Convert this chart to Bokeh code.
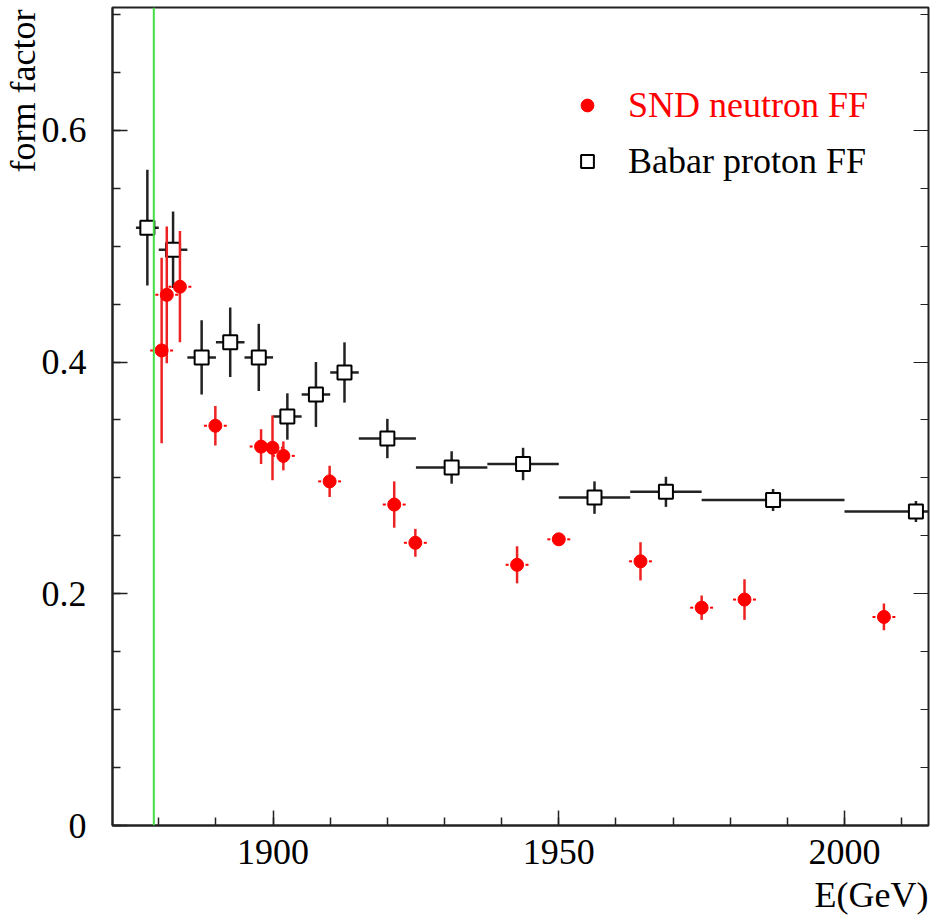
from bokeh.plotting import figure
from bokeh.models import (ColumnDataSource, Range1d, LinearAxis, SingleIntervalTicker,
                          Span, Title, Legend, LegendItem, CustomJSTickFormatter)
from bokeh.embed import file_html
from bokeh.resources import INLINE

# ---- data ----
snd_e = [1880.5, 1881.4, 1883.7, 1889.9, 1897.9, 1899.9, 1901.8, 1909.9,
         1921.2, 1924.9, 1942.7, 1950.0, 1964.3, 1975.0, 1982.5, 2006.9]
snd_ff = [0.410, 0.458, 0.465, 0.345, 0.327, 0.326, 0.319, 0.297,
          0.277, 0.244, 0.225, 0.247, 0.228, 0.188, 0.195, 0.180]
snd_ff_err = [0.080, 0.059, 0.048, 0.017, 0.015, 0.028, 0.0125, 0.0135,
              0.020, 0.012, 0.016, 0.004, 0.0165, 0.0105, 0.0175, 0.0115]
snd_e_err = [2.0] * 16

babar_e = [1878.0, 1882.5, 1887.5, 1892.5, 1897.5, 1902.5, 1907.5, 1912.5,
           1920.0, 1931.25, 1943.75, 1956.25, 1968.75, 1987.5, 2012.5]
babar_e_err = [2.0, 2.5, 2.5, 2.5, 2.5, 2.5, 2.5, 2.5,
               5.0, 6.25, 6.25, 6.25, 6.25, 12.5, 12.5]
babar_ff = [0.516, 0.497, 0.404, 0.417, 0.404, 0.353, 0.372, 0.391,
            0.334, 0.309, 0.312, 0.283, 0.288, 0.281, 0.271]
babar_ff_err = [0.050, 0.033, 0.032, 0.030, 0.029, 0.020, 0.028, 0.026,
                0.017, 0.014, 0.014, 0.014, 0.013, 0.0095, 0.009]

threshold = 1879.13  # 2 * neutron mass

x_ticks_major = 50
y_ticks_major = 0.2
y_tick_labels = {0: "0", 0.2: "0.2", 0.4: "0.4", 0.6: "0.6"}

FONT = "Liberation Serif"
FS = "36px"
FRAME = "#222222"

snd = ColumnDataSource(dict(
    x=snd_e, y=snd_ff,
    xl=[x - e for x, e in zip(snd_e, snd_e_err)],
    xr=[x + e for x, e in zip(snd_e, snd_e_err)],
    yl=[y - e for y, e in zip(snd_ff, snd_ff_err)],
    yh=[y + e for y, e in zip(snd_ff, snd_ff_err)],
))
bab = ColumnDataSource(dict(
    x=babar_e, y=babar_ff,
    xl=[x - e for x, e in zip(babar_e, babar_e_err)],
    xr=[x + e for x, e in zip(babar_e, babar_e_err)],
    yl=[y - e for y, e in zip(babar_ff, babar_ff_err)],
    yh=[y + e for y, e in zip(babar_ff, babar_ff_err)],
))

p = figure(width=933, height=921, output_backend="svg", toolbar_location=None,
           x_range=Range1d(1871.9, 2014.7), y_range=Range1d(0, 0.706),
           min_border_left=112, min_border_right=5, min_border_top=7,
           min_border_bottom=95, x_axis_location=None, y_axis_location=None)
p.grid.visible = False
p.outline_line_color = FRAME
p.outline_line_width = 2
p.background_fill_color = "white"
p.border_fill_color = "white"

xt = SingleIntervalTicker(interval=x_ticks_major, num_minor_ticks=5)
yt = SingleIntervalTicker(interval=y_ticks_major, num_minor_ticks=4)

xax = LinearAxis(ticker=xt)
yax = LinearAxis(ticker=yt, major_label_overrides=y_tick_labels)
for ax in (xax, yax):
    ax.axis_line_color = FRAME
    ax.axis_line_width = 2
    ax.major_tick_line_color = FRAME
    ax.minor_tick_line_color = FRAME
    ax.major_tick_line_width = 1.5
    ax.minor_tick_line_width = 1.5
    ax.major_tick_in = 15
    ax.major_tick_out = 0
    ax.minor_tick_in = 8
    ax.minor_tick_out = 0
    ax.major_label_text_font = FONT
    ax.major_label_text_font_size = FS
    ax.major_label_text_color = "black"
xax.major_label_standoff = 14
yax.major_label_standoff = 26
p.add_layout(xax, "below")
p.add_layout(yax, "left")

rax = LinearAxis(ticker=SingleIntervalTicker(interval=y_ticks_major, num_minor_ticks=4),
                 formatter=CustomJSTickFormatter(code="return ''"))
rax.axis_line_color = FRAME
rax.major_tick_line_color = FRAME
rax.minor_tick_line_color = FRAME
rax.major_tick_in = 15
rax.major_tick_out = 0
rax.minor_tick_in = 8
rax.minor_tick_out = 0
rax.major_label_text_font_size = "0px"
rax.major_label_standoff = 0
p.add_layout(rax, "right")

# axis titles (ROOT style: at the far end of each axis)
p.add_layout(Title(text="form factor", align="right", offset=2, standoff=-8,
                   text_font=FONT, text_font_size=FS, text_font_style="normal",
                   text_color="black"), "left")
p.add_layout(Title(text="E(GeV)", align="right", standoff=13,
                   text_font=FONT, text_font_size=FS, text_font_style="normal",
                   text_color="black"), "below")

# threshold line
p.add_layout(Span(location=threshold, dimension="height",
                  line_color="#44dd44", line_width=2))

# Babar error bars
p.segment(x0="xl", y0="y", x1="xr", y1="y", source=bab, line_color=FRAME, line_width=2.5)
p.segment(x0="x", y0="yl", x1="x", y1="yh", source=bab, line_color=FRAME, line_width=2.5)
bab_r = p.scatter(x="x", y="y", source=bab, marker="square", size=14,
                  fill_color="white", line_color="black", line_width=2)

# SND error bars
p.segment(x0="xl", y0="y", x1="x", y1="y", source=snd, line_color="red",
          line_width=2, line_dash="3 10")
p.segment(x0="xr", y0="y", x1="x", y1="y", source=snd, line_color="red",
          line_width=2, line_dash="3 10")
p.segment(x0="x", y0="yl", x1="x", y1="yh", source=snd, line_color="#ee2222", line_width=2.5)
snd_r = p.scatter(x="x", y="y", source=snd, marker="circle", size=13,
                  fill_color="red", line_color="red")

def mk_legend(item, loc, color):
    return Legend(items=[item], location=loc, orientation="vertical",
                  label_text_font=FONT, label_text_font_size=FS,
                  label_text_color=color, border_line_alpha=0,
                  background_fill_alpha=0, padding=0, margin=0, spacing=0,
                  glyph_width=32, glyph_height=40, label_height=40,
                  label_standoff=25)

p.add_layout(mk_legend(LegendItem(label="SND neutron FF", renderers=[snd_r]), (459, 699), "red"))
p.add_layout(mk_legend(LegendItem(label="Babar proton FF", renderers=[bab_r]), (459, 643), "black"))

open("out.html", "w").write(file_html(p, INLINE))
